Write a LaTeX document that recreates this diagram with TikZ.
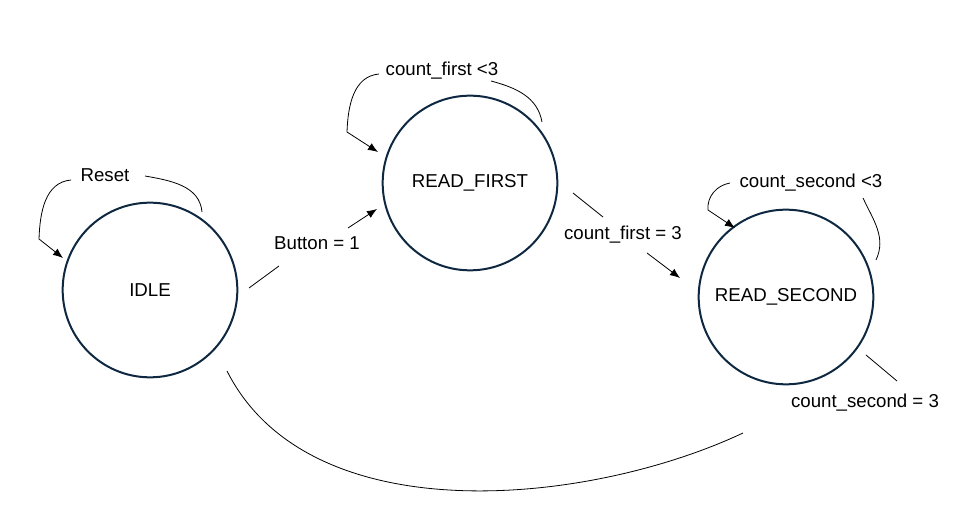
\documentclass[tikz,border=0pt]{standalone}
\usepackage{fontspec}
\setmainfont{Liberation Sans}
\usetikzlibrary{arrows.meta}
\definecolor{ringblue}{HTML}{0E2841}

\begin{document}
\begin{tikzpicture}[x=0.75pt,y=0.75pt,>={Latex[length=7.5pt,width=6pt]},
    every node/.style={font=\fontsize{14}{17}\selectfont},
    state/.style={draw=ringblue,line width=1.5pt,circle,minimum size=131pt,inner sep=0pt},
    wire/.style={line width=0.6pt}]
    \useasboundingbox (0,0) rectangle (957,-516);
    % states
    \node at (150,-290)[state] (idle){IDLE};
    \node at (470,-183)[state] (first){READ\_FIRST};
    \node at (786,-297)[state] (second){READ\_SECOND};
    % labels
    \node at (105,-175) (reset){Reset};
    \node at (442,-71) (firstloop){count\_first <3};
    \node at (811,-183) (secondloop){count\_second <3};
    \node at (317,-243) (button){Button = 1};
    \node at (623,-235) (firstdone){count\_first = 3};
    \node at (865,-403) (seconddone){count\_second = 3};
    % free ends of the connectors
    \coordinate (r1) at (202,-212);
    \coordinate (r2) at (145,-176);
    \coordinate (r3) at (71,-180);
    \coordinate (r4) at (39,-239);
    \coordinate (r5) at (63,-258);
    \coordinate (f1) at (542,-122);
    \coordinate (f2) at (491,-81);
    \coordinate (f3) at (379,-74);
    \coordinate (f4) at (347,-132);
    \coordinate (f5) at (378,-152);
    \coordinate (s1) at (730,-183);
    \coordinate (s2) at (708,-210);
    \coordinate (s3) at (735,-228);
    \coordinate (s4) at (876,-260);
    \coordinate (s5) at (863,-198);
    \coordinate (b1) at (249,-288);
    \coordinate (b2) at (279,-266);
    \coordinate (b3) at (348,-228);
    \coordinate (b4) at (377,-209);
    \coordinate (c1) at (573,-193);
    \coordinate (c2) at (603,-217);
    \coordinate (c3) at (647,-253);
    \coordinate (c4) at (680,-278);
    \coordinate (d1) at (866,-355);
    \coordinate (d2) at (897,-381);
    \coordinate (e1) at (743,-433);
    \coordinate (e2) at (227,-371);
    % self loops
    \draw[wire] (r1) to[out=95,in=-10] (r2);
    \draw[wire,->] (r3) to[out=185,in=88] (r4) -- (r5);
    \draw[wire] (f1) to[out=100,in=-15] (f2);
    \draw[wire,->] (f3) to[out=185,in=88] (f4) -- (f5);
    \draw[wire,->] (s1) to[out=190,in=95] (s2) -- (s3);
    \draw[wire] (s4) to[out=65,in=-65] (s5);
    % transitions
    \draw[wire] (b1) -- (b2);
    \draw[wire,->] (b3) -- (b4);
    \draw[wire] (c1) -- (c2);
    \draw[wire,->] (c3) -- (c4);
    \draw[wire] (d1) -- (d2);
    \draw[wire] (e1) .. controls (590,-505) and (310,-535) .. (e2);
\end{tikzpicture}
\end{document}
